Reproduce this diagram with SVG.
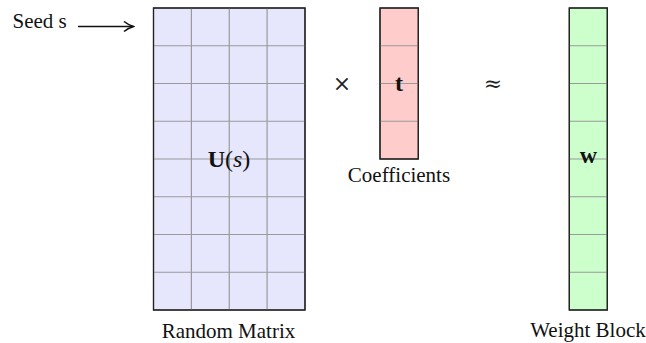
<svg xmlns="http://www.w3.org/2000/svg" width="646" height="343" viewBox="0 0 646 343">
<style>
.t{font-family:"Liberation Serif","Times New Roman",serif;font-size:21px;fill:#111}
.m{font-family:"Liberation Serif","Times New Roman",serif;font-size:24px;fill:#111}
.o{font-family:"DejaVu Serif","Liberation Serif",serif;font-size:22px;fill:#222}
.g{stroke:#9a9a9a;stroke-width:1.2;fill:none}
.b{stroke:#222;stroke-width:1.2}
</style>
<defs>
<marker id="ah" viewBox="0 0 12 12" refX="11" refY="6" markerWidth="12" markerHeight="12" markerUnits="userSpaceOnUse" orient="auto">
<path d="M1.5,1 Q6,4.6 11,6 Q6,7.4 1.5,11" fill="none" stroke="#111" stroke-width="1.5"/>
</marker>
</defs>
<g id="seed">
<text class="t" x="12.5" y="28">Seed s</text>
</g>
<g id="connectors">
<line x1="78" y1="26.5" x2="133.5" y2="26.5" stroke="#111" stroke-width="1.7" marker-end="url(#ah)"/>
</g>
<g id="random-matrix">
<rect x="153.5" y="8" width="151.5" height="302" fill="#e6e6fd" class="b"/>
<path class="g" d="M191.4,8V310M229.25,8V310M267.1,8V310M153.5,45.75H305M153.5,83.5H305M153.5,121.25H305M153.5,159H305M153.5,196.75H305M153.5,234.5H305M153.5,272.25H305"/>
<rect x="153.5" y="8" width="151.5" height="302" fill="none" class="b"/>
<text class="m" x="229" y="166.5" text-anchor="middle"><tspan font-weight="bold">U</tspan>(<tspan font-style="italic">s</tspan>)</text>
<text class="t" x="228.5" y="338.3" text-anchor="middle">Random Matrix</text>
</g>
<g id="times">
<text class="o" x="342" y="91" text-anchor="middle">×</text>
</g>
<g id="coefficients">
<rect x="380" y="8" width="38.3" height="151" fill="#ffcccc" class="b"/>
<path class="g" d="M380,45.75H418.3M380,83.5H418.3M380,121.25H418.3"/>
<rect x="380" y="8" width="38.3" height="151" fill="none" class="b"/>
<text class="m" x="399" y="90.7" text-anchor="middle" font-weight="bold">t</text>
<text class="t" x="399" y="181.5" text-anchor="middle">Coefficients</text>
</g>
<g id="approx">
<text class="o" x="493" y="91" text-anchor="middle">≈</text>
</g>
<g id="weight-block">
<rect x="569.3" y="8" width="38" height="302" fill="#ccffcc" class="b"/>
<path class="g" d="M569.3,45.75H607.3M569.3,83.5H607.3M569.3,121.25H607.3M569.3,159H607.3M569.3,196.75H607.3M569.3,234.5H607.3M569.3,272.25H607.3"/>
<rect x="569.3" y="8" width="38" height="302" fill="none" class="b"/>
<text class="m" x="588.3" y="163" text-anchor="middle" font-weight="bold">w</text>
<text class="t" x="588" y="337" text-anchor="middle">Weight Block</text>
</g>
</svg>
